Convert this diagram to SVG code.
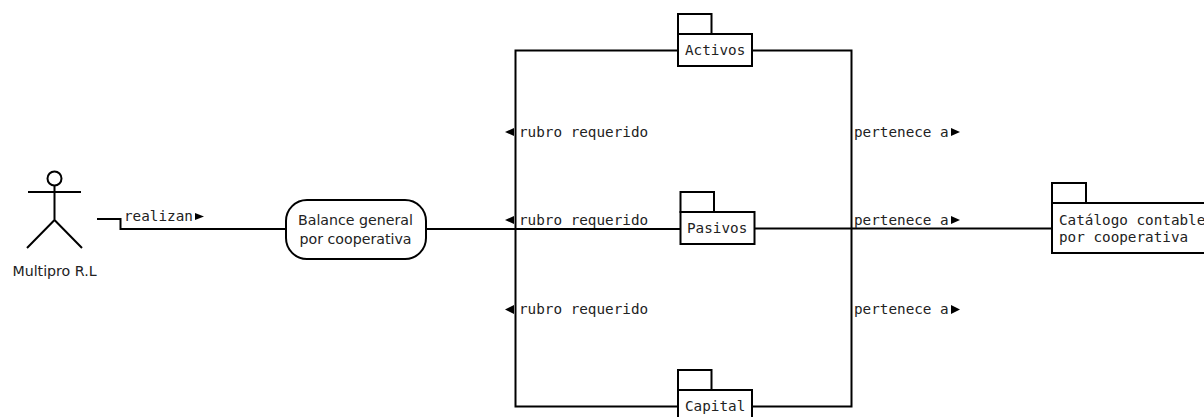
<svg xmlns="http://www.w3.org/2000/svg" width="1204" height="417" viewBox="0 0 1204 417">
<style>
.s{fill:none;stroke:#000;stroke-width:2}
.b{fill:#fff;stroke:#000;stroke-width:2}
.m{font-family:"DejaVu Sans Mono",monospace;font-size:14.3px;fill:#222}
.t{font-family:"DejaVu Sans",sans-serif;font-size:14.2px;fill:#222;text-anchor:middle}
.a{fill:#000}
</style>
<rect width="1204" height="417" fill="#fff"/>
<g id="connectors">
<path class="s" d="M97 219H120.500V229H286"/>
<path class="s" d="M426 229H680"/>
<path class="s" d="M678 50.500H515.500V406.500H678"/>
<path class="s" d="M752 50.500H851.500V406.500H752"/>
<path class="s" d="M754 228.500H1052"/>
<text class="m" x="124" y="220.500">realizan</text>
<polygon class="a" points="195,213 204,216.500 195,220"/>
<g id="rubro-labels">
<polygon class="a" points="514,128 505,132 514,136"/>
<text class="m" x="519" y="136.500">rubro requerido</text>
<polygon class="a" points="514,216 505,220 514,224"/>
<text class="m" x="519" y="225">rubro requerido</text>
<polygon class="a" points="514,305 505,309.500 514,314"/>
<text class="m" x="519" y="314">rubro requerido</text>
</g>
<g id="pertenece-labels">
<text class="m" x="854" y="136.500">pertenece a</text>
<polygon class="a" points="951,128 960,132 951,136"/>
<text class="m" x="854" y="225">pertenece a</text>
<polygon class="a" points="951,216 960,220 951,224"/>
<text class="m" x="854" y="314">pertenece a</text>
<polygon class="a" points="951,305 960,309.500 951,314"/>
</g>
</g>
<g id="actor">
<circle class="s" cx="54.500" cy="178.500" r="7"/>
<path class="s" d="M28 192H81M54.500 185.500V220M54.500 220L27 248M54.500 220L82 248"/>
<text class="t" x="54.500" y="276">Multipro R.L</text>
</g>
<g id="balance">
<rect class="b" x="286" y="200" width="140" height="59" rx="21" ry="21"/>
<text class="t" x="355.500" y="225">Balance general</text>
<text class="t" x="355.500" y="244">por cooperativa</text>
</g>
<g id="activos">
<rect class="b" x="678" y="14" width="33.500" height="20"/>
<rect class="b" x="678" y="34" width="74" height="32"/>
<text class="m" x="685" y="55">Activos</text>
</g>
<g id="pasivos">
<rect class="b" x="680.500" y="192" width="33.500" height="20"/>
<rect class="b" x="680.500" y="212" width="74" height="32"/>
<text class="m" x="687" y="233">Pasivos</text>
</g>
<g id="capital">
<rect class="b" x="678" y="370" width="33.500" height="20"/>
<rect class="b" x="678" y="390" width="74" height="32"/>
<text class="m" x="685" y="411">Capital</text>
</g>
<g id="catalogo">
<rect class="b" x="1052" y="183" width="34" height="20"/>
<rect class="b" x="1052" y="203" width="165" height="50"/>
<text class="m" x="1059" y="224.500">Catálogo contable</text>
<text class="m" x="1059" y="242">por cooperativa</text>
</g>
</svg>
